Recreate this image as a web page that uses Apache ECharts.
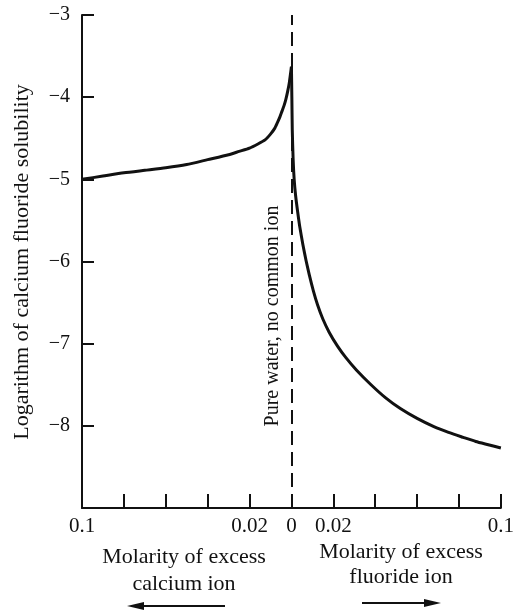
<!DOCTYPE html>
<html>
<head>
<meta charset="utf-8">
<script src="https://cdn.jsdelivr.net/npm/echarts@6/dist/echarts.min.js"></script>
<style>
  html, body { margin: 0; padding: 0; background: #fff; }
  #chart { width: 517px; height: 613px; }
</style>
</head>
<body>
<div id="chart"></div>
<script>
const serif = "Liberation Serif, DejaVu Serif, serif";
const ink = "#111";

// molarity of excess calcium ion (left, drawn as negative x), log solubility
const calciumSide = [
  [-0.1, -5.0], [-0.09, -4.96], [-0.08, -4.92], [-0.07, -4.89], [-0.06, -4.86],
  [-0.05, -4.82], [-0.04, -4.76], [-0.03, -4.7], [-0.025, -4.66], [-0.02, -4.62],
  [-0.016, -4.57], [-0.0126, -4.52], [-0.01, -4.45], [-0.008, -4.38], [-0.0067, -4.31],
  [-0.0055, -4.24], [-0.0045, -4.17], [-0.0035, -4.1], [-0.0027, -4.03],
  [-0.0018, -3.93], [-0.001, -3.82], [0, -3.63],
];

// molarity of excess fluoride ion (right), log solubility
const fluorideSide = [
  [0, -3.63], [0.0002, -4.0], [0.0004, -4.4], [0.0008, -4.75], [0.0013, -5.0],
  [0.002, -5.2], [0.003, -5.4], [0.004, -5.58], [0.0055, -5.8], [0.007, -5.99],
  [0.0085, -6.16], [0.0105, -6.36], [0.0125, -6.53], [0.015, -6.7], [0.018, -6.86],
  [0.022, -7.03], [0.026, -7.17], [0.031, -7.32], [0.038, -7.5], [0.045, -7.66],
  [0.052, -7.79], [0.06, -7.91], [0.068, -8.01], [0.075, -8.08], [0.082, -8.14],
  [0.088, -8.19], [0.094, -8.23], [0.1, -8.27],
];

const labeledX = [-0.1, -0.02, 0, 0.02, 0.1];
const yTicks = [-3, -4, -5, -6, -7, -8];

function xLabel(value) {
  const hit = labeledX.find((v) => Math.abs(v - value) < 1e-9);
  if (hit === undefined) return "";
  return String(Math.abs(hit));
}

function yLabel(value) {
  const r = Math.round(value);
  if (Math.abs(value - r) > 1e-9 || !yTicks.includes(r)) return "";
  return "\u2212" + Math.abs(r);
}

function textEl(text, x, y, size, extra) {
  return {
    type: "text",
    x,
    y,
    ...extra,
    style: {
      text,
      fontFamily: serif,
      fontSize: size,
      fill: ink,
      align: "center",
      verticalAlign: "middle",
      ...(extra && extra.style),
    },
  };
}

const chart = echarts.init(document.getElementById("chart"));

chart.setOption({
  animation: false,
  backgroundColor: "#fff",
  grid: { left: 82, right: 13, top: 15, bottom: 105 },
  xAxis: {
    type: "value",
    min: -0.1,
    max: 0.1,
    interval: 0.02,
    axisLine: { onZero: false, lineStyle: { color: ink, width: 2 } },
    axisTick: { inside: true, length: 14, lineStyle: { color: ink, width: 2 } },
    axisLabel: { formatter: xLabel, color: ink, fontFamily: serif, fontSize: 21, margin: 8 },
    splitLine: { show: false },
  },
  yAxis: {
    type: "value",
    min: -9,
    max: -3,
    interval: 1,
    axisLine: { onZero: false, lineStyle: { color: ink, width: 2 } },
    axisTick: { inside: true, length: 12, lineStyle: { color: ink, width: 2 } },
    axisLabel: { formatter: yLabel, color: ink, fontFamily: serif, fontSize: 20, margin: 12 },
    splitLine: { show: false },
  },
  series: [
    {
      type: "line",
      data: calciumSide,
      showSymbol: false,
      smooth: 0.2,
      lineStyle: { color: ink, width: 3, join: "round" },
    },
    {
      type: "line",
      data: fluorideSide,
      showSymbol: false,
      smooth: 0.2,
      lineStyle: { color: ink, width: 3, join: "round" },
      markLine: {
        silent: true,
        symbol: "none",
        label: { show: false },
        lineStyle: { color: ink, width: 2, type: [14, 7] },
        data: [{ xAxis: 0 }],
      },
    },
  ],
  graphic: [
    textEl("Logarithm of calcium fluoride solubility", 22, 262, 22, { rotation: Math.PI / 2 }),
    textEl("Pure water, no common ion", 273, 316, 20, { rotation: Math.PI / 2 }),
    textEl("Molarity of excess\ncalcium ion", 184, 571, 22, { style: { lineHeight: 27 } }),
    textEl("Molarity of excess\nfluoride ion", 401, 565, 22, { style: { lineHeight: 25 } }),
    {
      type: "line",
      shape: { x1: 140, y1: 606, x2: 225, y2: 606 },
      style: { stroke: ink, lineWidth: 2 },
    },
    {
      type: "polygon",
      shape: { points: [[127, 606], [144, 602], [144, 610]] },
      style: { fill: ink },
    },
    {
      type: "line",
      shape: { x1: 362, y1: 603, x2: 428, y2: 603 },
      style: { stroke: ink, lineWidth: 2 },
    },
    {
      type: "polygon",
      shape: { points: [[441, 603], [424, 599], [424, 607]] },
      style: { fill: ink },
    },
  ],
});
</script>
</body>
</html>
